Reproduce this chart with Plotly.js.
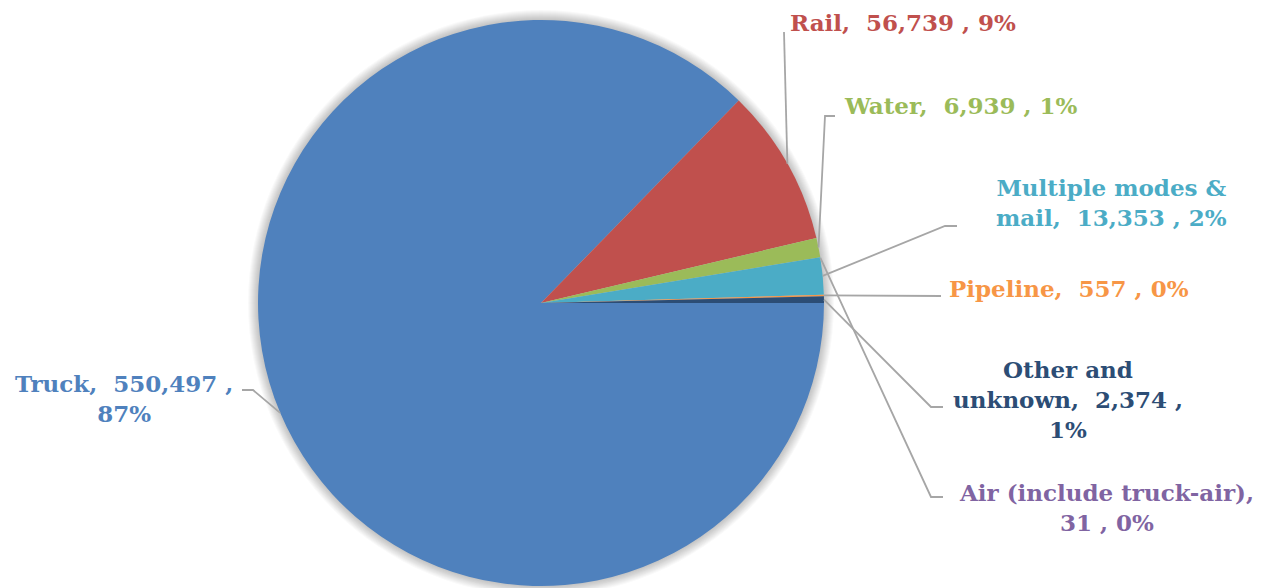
<!DOCTYPE html>
<html>
<head>
<meta charset="utf-8">
<script src="https://cdn.plot.ly/plotly-3.0.1.min.js"></script>
<style>html,body{margin:0;padding:0;background:#fff;}#chart{width:1276px;height:588px;}</style>
</head>
<body>
<div id="chart"></div>
<script>
// ---- data ----
const categories = ["Truck", "Rail", "Water", "Multiple modes & mail", "Pipeline", "Other and unknown", "Air (include truck-air)"];
const values = [550497, 56739, 6939, 13353, 557, 2374, 31];
const percentLabels = ["87%", "9%", "1%", "2%", "0%", "1%", "0%"];
const sliceColors = ["#4F81BD", "#C0504D", "#9BBB59", "#4BACC6", "#F79646", "#2C4D75", "#8064A2"];

// ---- layout constants ----
const W = 1276, H = 588;
const CX = 541, CY = 303, R = 283;
const FONT = "DejaVu Serif, Georgia, serif";
const FS = 23;
// label text pieces (line breaks as in reference)
const labelLines = [
  (n, v, p) => n + ",\u00a0 " + v + " ,<br>" + p,
  (n, v, p) => n + ",\u00a0 " + v + " , " + p,
  (n, v, p) => n + ",\u00a0 " + v + " , " + p,
  (n, v, p) => "Multiple modes &amp;<br>mail,\u00a0 " + v + " , " + p,
  (n, v, p) => n + ",\u00a0 " + v + " , " + p,
  (n, v, p) => "Other and<br>unknown,\u00a0 " + v + " ,<br>" + p,
  (n, v, p) => "Air (include truck-air),<br>" + v + " , " + p
];
// label centre positions (px) and leader elbows (px)
const labelPos = [[124, 398], [903, 22], [961, 106], [1111, 202], [1069, 289], [1068, 399], [1106, 507]];
const leaderPts = [
  [[253, 390], [242, 390]],
  [[784, 32]],
  [[825, 116], [835, 116]],
  [[945, 226], [957, 226]],
  [[941, 296]],
  [[931, 407], [943, 407]],
  [[931, 497], [943, 497]]
];
const leaderAngleOverride = [null, null, null, null, null, null, 80.8];
const ROTATION = 90;

function fmt(v) { return v.toLocaleString("en-US"); }
function px(x) { return x / W; }
function py(y) { return 1 - y / H; }

const total = values.reduce((a, b) => a + b, 0);
let cum = ROTATION;
const shapes = [];
const annotations = [];

// soft blurred shadow behind pie
for (let i = 0; i < 10; i++) {
  const rr = R + 1 + i * 1.0;
  shapes.push({type: "circle", xref: "paper", yref: "paper", layer: "below",
    x0: px(CX - rr), x1: px(CX + rr), y0: py(CY + rr), y1: py(CY - rr),
    fillcolor: "rgba(0,0,0,0.022)", line: {width: 0}});
}

values.forEach((v, i) => {
  const span = v / total * 360;
  let mid = cum + span / 2;
  cum += span;
  if (leaderAngleOverride[i] !== null) mid = leaderAngleOverride[i];
  const a = mid * Math.PI / 180;
  const ex = CX + R * Math.sin(a), ey = CY - R * Math.cos(a);
  let path = "M" + px(ex) + "," + py(ey);
  leaderPts[i].forEach(p => { path += " L" + px(p[0]) + "," + py(p[1]); });
  shapes.push({type: "path", xref: "paper", yref: "paper", path: path,
    line: {color: "#A6A6A6", width: 1.8}, layer: "above"});
  annotations.push({xref: "paper", yref: "paper", x: px(labelPos[i][0]), y: py(labelPos[i][1]),
    xanchor: "center", yanchor: "middle", align: "center", showarrow: false,
    text: "<b>" + labelLines[i](categories[i], fmt(v), percentLabels[i]) + "</b>",
    font: {family: FONT, size: FS, color: sliceColors[i]}});
});

const trace = {
  type: "pie",
  labels: categories,
  values: values,
  sort: false,
  direction: "clockwise",
  rotation: ROTATION,
  textinfo: "none",
  hoverinfo: "label+value+percent",
  marker: {colors: sliceColors, line: {width: 0}},
  domain: {x: [px(CX - R), px(CX + R)], y: [py(CY + R), py(CY - R)]},
  showlegend: false
};

const layout = {
  width: W, height: H,
  margin: {l: 0, r: 0, t: 0, b: 0},
  paper_bgcolor: "#ffffff",
  showlegend: false,
  shapes: shapes,
  annotations: annotations
};

Plotly.newPlot("chart", [trace], layout, {displayModeBar: false, staticPlot: true});
</script>
</body>
</html>
